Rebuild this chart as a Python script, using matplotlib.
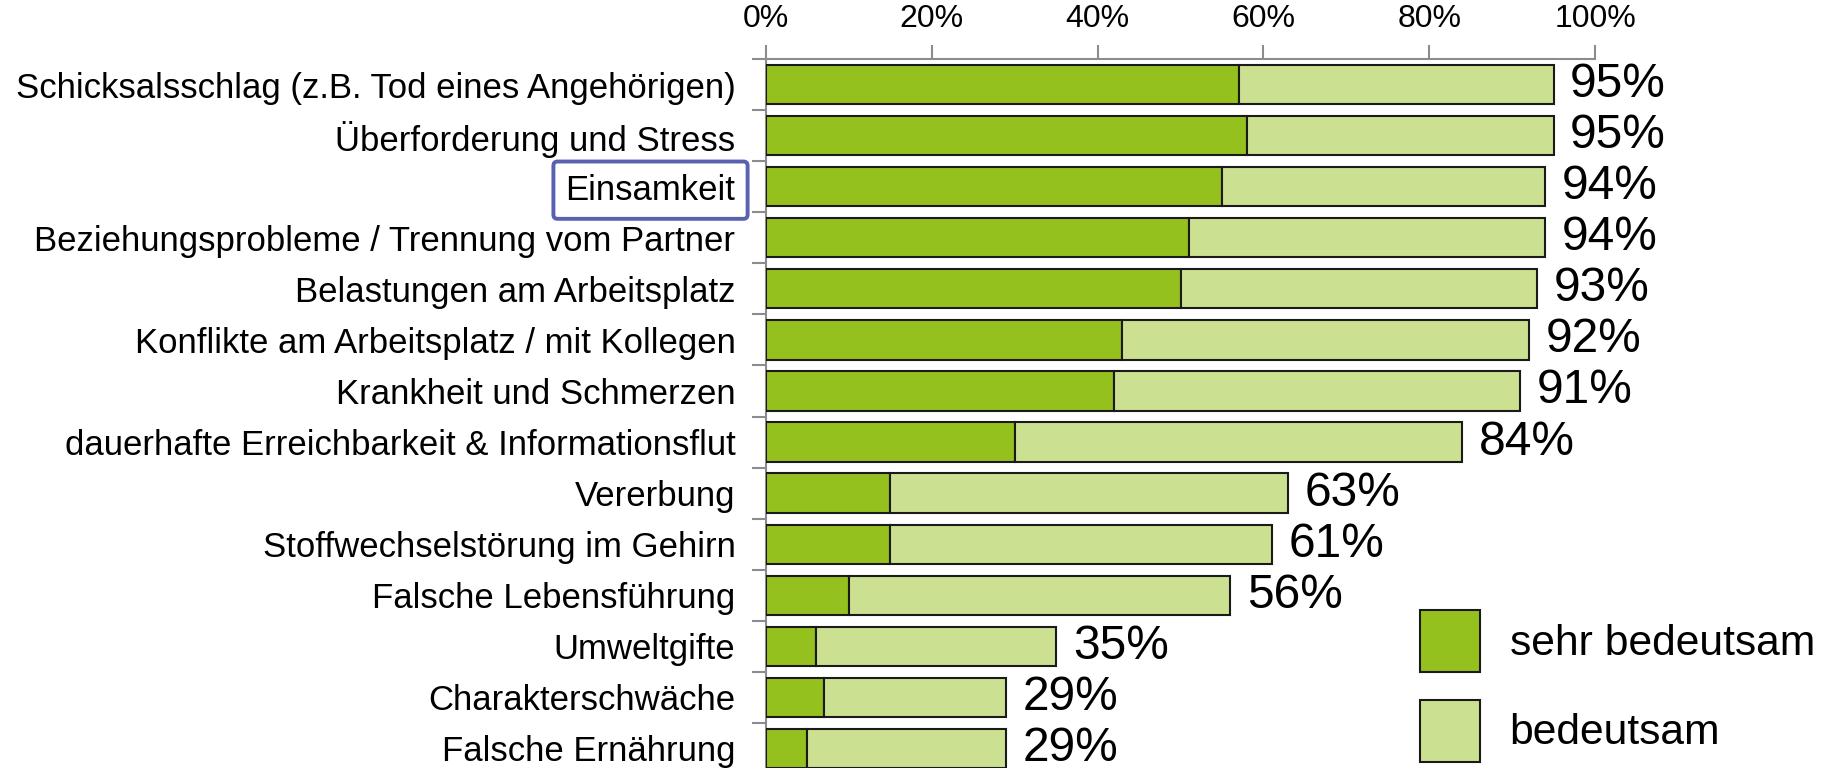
import matplotlib
matplotlib.use('Agg')
import matplotlib.pyplot as plt
import numpy as np

plt.rcParams['font.family'] = ['Liberation Sans', 'DejaVu Sans']

CATEGORIES = [
    'Schicksalsschlag (z.B. Tod eines Angehörigen)',
    'Überforderung und Stress',
    'Einsamkeit',
    'Beziehungsprobleme / Trennung vom Partner',
    'Belastungen am Arbeitsplatz',
    'Konflikte am Arbeitsplatz / mit Kollegen',
    'Krankheit und Schmerzen',
    'dauerhafte Erreichbarkeit & Informationsflut',
    'Vererbung',
    'Stoffwechselstörung im Gehirn',
    'Falsche Lebensführung',
    'Umweltgifte',
    'Charakterschwäche',
    'Falsche Ernährung',
]
SEHR_BEDEUTSAM = [57, 58, 55, 51, 50, 43, 42, 30, 15, 15, 10, 6, 7, 5]
GESAMT = [95, 95, 94, 94, 93, 92, 91, 84, 63, 61, 56, 35, 29, 29]
BEDEUTSAM = [g - s for g, s in zip(GESAMT, SEHR_BEDEUTSAM)]
X_TICKS = [0, 20, 40, 60, 80, 100]
HIGHLIGHT = 'Einsamkeit'

DARK = '#95c11f'
LIGHT = '#cce092'
AXIS_GREY = '#8c8c8c'
BOX_BLUE = '#5a62b0'

W, H = 1825, 768
fig = plt.figure(figsize=(W / 100, H / 100), dpi=100)
# axes box in pixel terms: x 766..1595, y 59..774 (last row is cut a bit, as in the original)
ax = fig.add_axes([766 / W, 1 - 774 / H, 829 / W, 715 / H])

y = np.arange(len(CATEGORIES))
b1 = ax.barh(y, SEHR_BEDEUTSAM, height=0.77, color=DARK, edgecolor='#1a1a1a',
             linewidth=1.5, label='sehr bedeutsam', zorder=3)
b2 = ax.barh(y, BEDEUTSAM, left=SEHR_BEDEUTSAM, height=0.77, color=LIGHT,
             edgecolor='#1a1a1a', linewidth=1.5, label='bedeutsam', zorder=3)

for yi, tot in zip(y, GESAMT):
    ax.annotate(f'{tot}%', xy=(tot, yi), xytext=(12, 0), textcoords='offset points',
                ha='left', va='center', fontsize=34.5, clip_on=False)

ax.set_xlim(0, 100)
ax.set_ylim(len(CATEGORIES) - 0.5, -0.5)

ax.xaxis.tick_top()
ax.set_xticks(X_TICKS)
ax.set_xticklabels([f'{t}%' for t in X_TICKS], fontsize=23)
ax.tick_params(axis='x', direction='out', length=10, width=1.5, color=AXIS_GREY, pad=8)

ax.set_yticks(y)
ax.set_yticklabels(CATEGORIES, fontsize=25)
ax.set_yticks(np.arange(len(CATEGORIES) + 1) - 0.5, minor=True)
ax.tick_params(axis='y', which='major', length=0, pad=22)
ax.tick_params(axis='y', which='minor', direction='out', length=10, width=1.5, color=AXIS_GREY)

for s in ['right', 'bottom']:
    ax.spines[s].set_visible(False)
for s in ['top', 'left']:
    ax.spines[s].set_color(AXIS_GREY)
    ax.spines[s].set_linewidth(1.5)

for lbl in ax.get_yticklabels():
    if lbl.get_text() == HIGHLIGHT:
        lbl.set_bbox(dict(boxstyle='round,pad=0.35,rounding_size=0.12', fc='white',
                          ec=BOX_BLUE, lw=2.8))

ax.legend(handles=[b1, b2], loc='upper left', bbox_to_anchor=(1420 / W, 1 - 610 / H),
          bbox_transform=fig.transFigure, frameon=False, fontsize=30.7,
          handlelength=1.4, handleheight=1.85, handletextpad=0.7, labelspacing=0.66,
          borderpad=0, borderaxespad=0)

fig.savefig('out.png', dpi=100)
